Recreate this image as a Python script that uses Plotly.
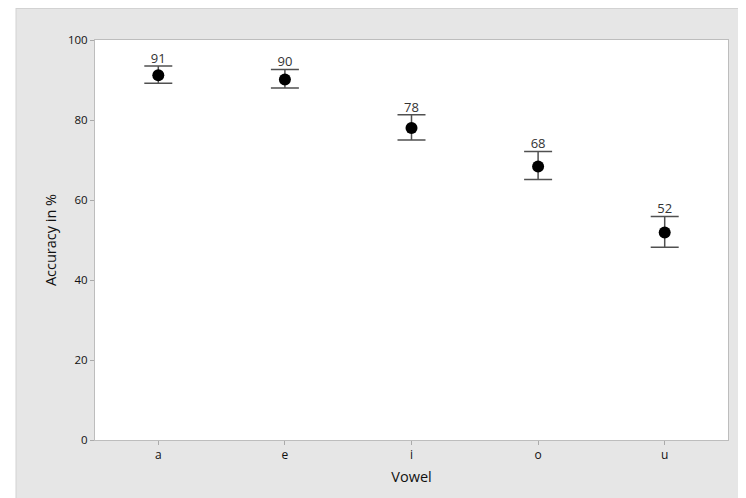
import plotly.graph_objects as go

vowels = ["a", "e", "i", "o", "u"]
mean_acc = [91.2, 90.1, 78.0, 68.4, 51.9]
upper_ci = [93.5, 92.6, 81.3, 72.1, 55.9]
lower_ci = [89.2, 88.0, 75.0, 65.1, 48.2]
labels = ["91", "90", "78", "68", "52"]
y_ticks = [0, 20, 40, 60, 80, 100]

err_plus = [u - m for u, m in zip(upper_ci, mean_acc)]
err_minus = [m - l for m, l in zip(mean_acc, lower_ci)]

fig = go.Figure()
fig.add_trace(go.Scatter(
    x=vowels, y=mean_acc, mode="markers",
    marker=dict(color="black", size=12),
    error_y=dict(type="data", symmetric=False, array=err_plus, arrayminus=err_minus,
                 color="#505050", thickness=1.5, width=14),
    hoverinfo="skip", showlegend=False,
))
fig.add_trace(go.Scatter(
    x=vowels, y=upper_ci, mode="text", text=labels, textposition="top center",
    textfont=dict(family="Open Sans", size=13, color="#333333"),
    hoverinfo="skip", showlegend=False,
))

# page has an 8px body margin; the figure is sized to fit the window
W, H = 738, 490
L, R, T, B = 87, 18, 32, 58
pw, ph = W - L - R, H - T - B
def px(x):
    return (x - L) / pw
def py(y):
    return (H - B - y) / ph

fig.add_shape(type="rect", xref="paper", yref="paper", x0=px(0), x1=px(8), y0=py(H), y1=py(0),
              fillcolor="white", line_width=0, layer="below")
fig.add_shape(type="line", xref="paper", yref="paper", x0=px(8), x1=px(8), y0=py(H), y1=py(0),
              line=dict(color="#d2d2d2", width=1), layer="below")
fig.add_shape(type="line", xref="paper", yref="paper", x0=px(8), x1=px(W), y0=py(0.5), y1=py(0.5),
              line=dict(color="#d2d2d2", width=1), layer="below")

fig.update_layout(
    width=W, height=H,
    margin=dict(l=L, r=R, t=T, b=B),
    paper_bgcolor="#e6e6e6", plot_bgcolor="white",
    font=dict(family="Open Sans", color="#1a1a1a"),
    xaxis=dict(range=[-0.5, 4.5], showline=True, mirror=True, linecolor="#bdbdbd", linewidth=1,
               showgrid=False, zeroline=False, ticks="outside", ticklen=4, tickcolor="#aaaaaa",
               tickfont=dict(size=12, color="#111111"),
               title=dict(text="Vowel", font=dict(size=14.5, color="#111111"), standoff=9)),
    yaxis=dict(range=[0, 100], tickvals=y_ticks, showline=True, mirror=True, linecolor="#bdbdbd",
               linewidth=1, showgrid=False, zeroline=False, ticks="outside", ticklen=4,
               tickcolor="#aaaaaa", tickfont=dict(size=11.5, color="#111111"),
               title=dict(text="Accuracy in %", font=dict(size=14.5, color="#111111"), standoff=7)),
)

fig.write_html("out.html")
